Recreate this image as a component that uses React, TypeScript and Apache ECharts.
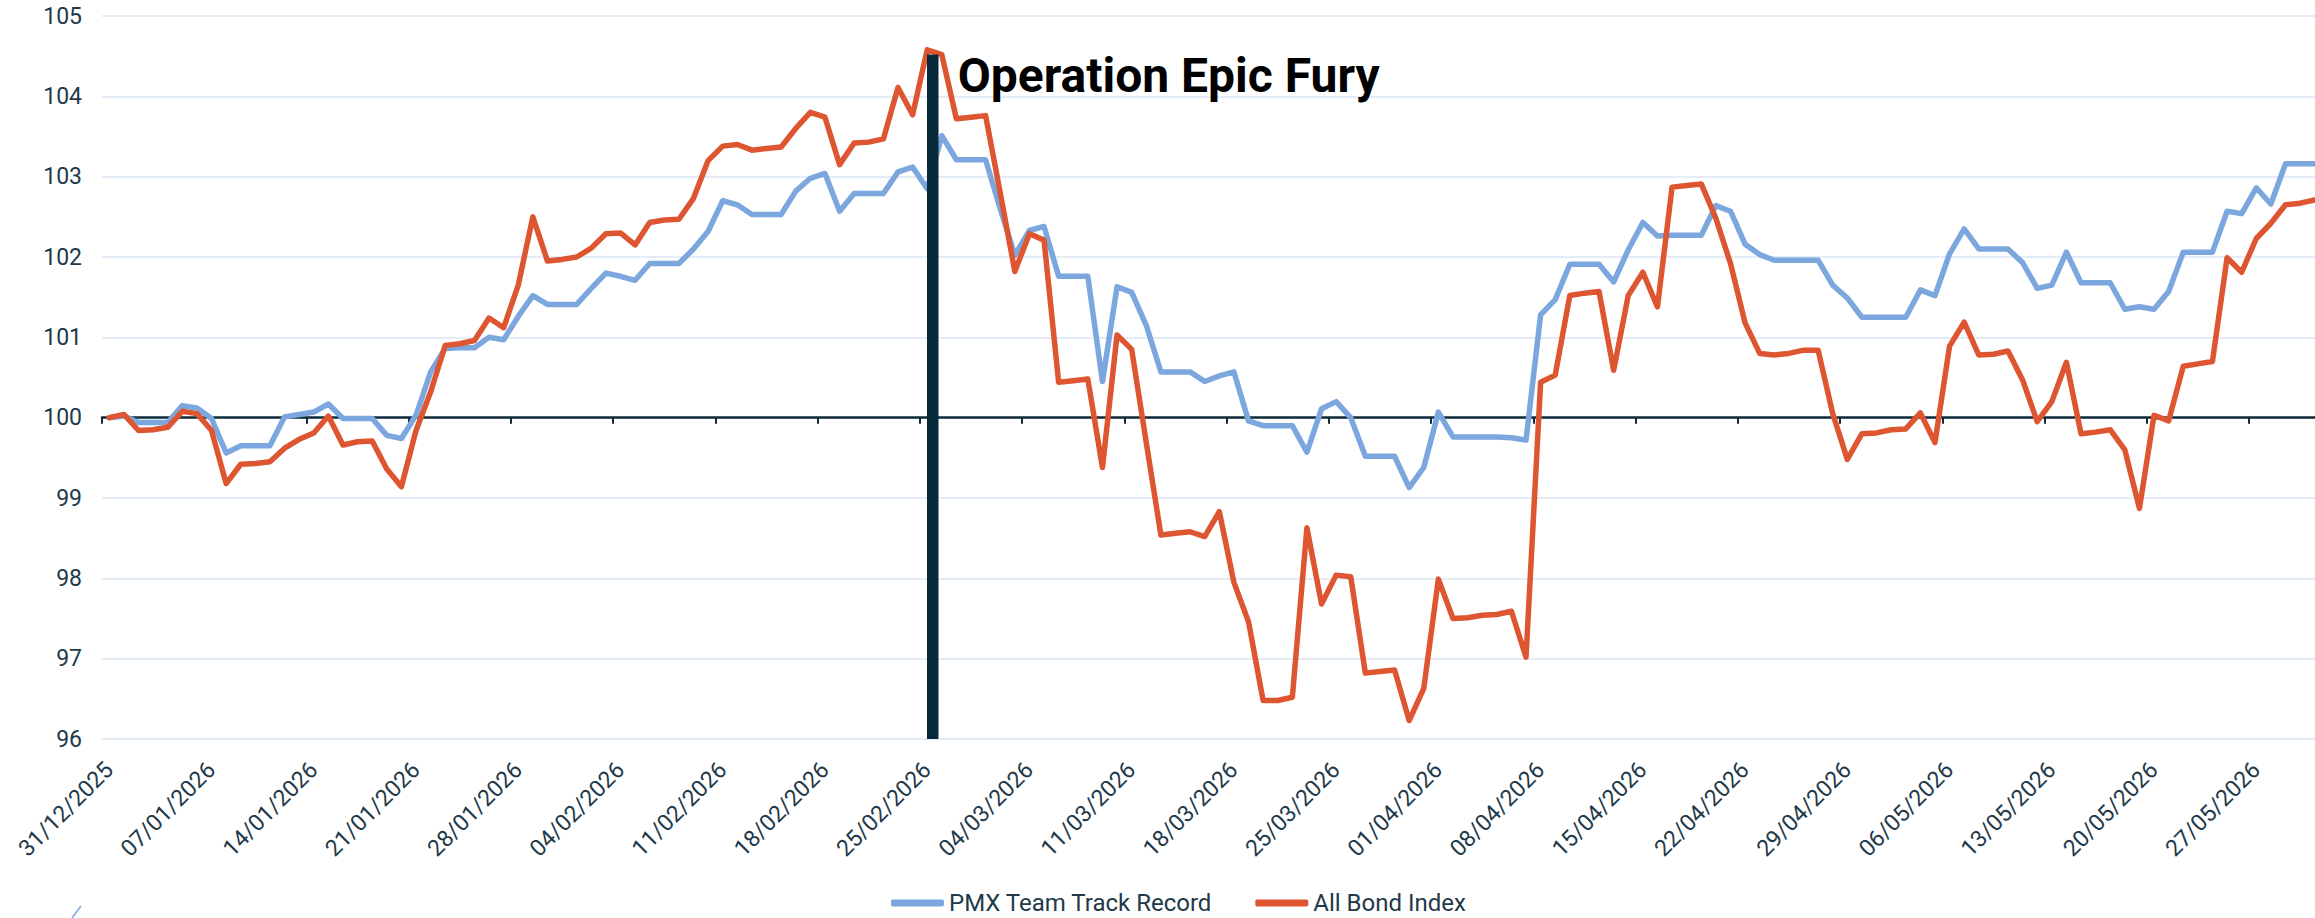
import React, { useEffect, useRef } from 'react';
import * as echarts from 'echarts';

// ---------- data ----------
const START_DATE = '2025-12-31';
const SERIES_NAMES = ['PMX Team Track Record', 'All Bond Index'];

const PMX_TEAM = [
  100.00, 100.02, 99.94, 99.94, 99.94, 100.15, 100.12,
  99.99, 99.56, 99.65, 99.65, 99.65, 100.01, 100.04,
  100.07, 100.17, 99.99, 99.99, 99.99, 99.78, 99.74,
  100.03, 100.57, 100.86, 100.87, 100.87, 101.00, 100.97,
  101.26, 101.52, 101.41, 101.41, 101.41, 101.61, 101.80,
  101.76, 101.71, 101.92, 101.92, 101.92, 102.10, 102.32,
  102.70, 102.65, 102.53, 102.53, 102.53, 102.82, 102.98,
  103.04, 102.57, 102.79, 102.79, 102.79, 103.06, 103.12,
  102.85, 103.51, 103.21, 103.21, 103.21, 102.60, 102.02,
  102.33, 102.38, 101.76, 101.76, 101.76, 100.45, 101.63,
  101.56, 101.15, 100.57, 100.57, 100.57, 100.45, 100.52,
  100.57, 99.96, 99.90, 99.90, 99.90, 99.57, 100.11,
  100.20, 100.00, 99.52, 99.52, 99.52, 99.13, 99.38,
  100.07, 99.76, 99.76, 99.76, 99.76, 99.75, 99.72,
  101.28, 101.47, 101.91, 101.91, 101.91, 101.69, 102.09,
  102.43, 102.26, 102.27, 102.27, 102.27, 102.64, 102.57,
  102.16, 102.03, 101.96, 101.96, 101.96, 101.96, 101.65,
  101.49, 101.25, 101.25, 101.25, 101.25, 101.59, 101.52,
  102.04, 102.35, 102.10, 102.10, 102.10, 101.93, 101.61,
  101.65, 102.06, 101.68, 101.68, 101.68, 101.35, 101.38,
  101.35, 101.57, 102.06, 102.06, 102.06, 102.57, 102.54,
  102.86, 102.66, 103.16, 103.16, 103.16,
];

const ALL_BOND = [
  100.00, 100.04, 99.84, 99.85, 99.88, 100.08, 100.05,
  99.84, 99.18, 99.42, 99.43, 99.45, 99.62, 99.73,
  99.81, 100.02, 99.66, 99.70, 99.71, 99.36, 99.14,
  99.84, 100.32, 100.90, 100.92, 100.96, 101.24, 101.12,
  101.65, 102.50, 101.95, 101.97, 102.00, 102.11, 102.29,
  102.30, 102.15, 102.43, 102.46, 102.47, 102.73, 103.20,
  103.38, 103.40, 103.33, 103.35, 103.37, 103.60, 103.80,
  103.74, 103.15, 103.42, 103.43, 103.47, 104.11, 103.77,
  104.58, 104.52, 103.72, 103.74, 103.76, 102.80, 101.82,
  102.29, 102.21, 100.44, 100.46, 100.48, 99.38, 101.03,
  100.85, 99.69, 98.54, 98.56, 98.58, 98.52, 98.83,
  97.95, 97.46, 96.48, 96.48, 96.52, 98.63, 97.68,
  98.04, 98.02, 96.82, 96.84, 96.86, 96.23, 96.63,
  97.99, 97.50, 97.51, 97.54, 97.55, 97.59, 97.02,
  100.44, 100.53, 101.52, 101.55, 101.57, 100.59, 101.52,
  101.81, 101.38, 102.87, 102.89, 102.91, 102.48, 101.92,
  101.18, 100.80, 100.78, 100.80, 100.84, 100.84, 100.05,
  99.48, 99.80, 99.81, 99.85, 99.86, 100.06, 99.69,
  100.89, 101.19, 100.78, 100.79, 100.83, 100.47, 99.95,
  100.20, 100.69, 99.80, 99.82, 99.85, 99.60, 98.87,
  100.03, 99.96, 100.64, 100.67, 100.70, 101.99, 101.81,
  102.23, 102.42, 102.65, 102.67, 102.71,
];

const Y_MIN = 96;
const Y_MAX = 105;
const Y_STEP = 1;
const BASELINE = 100;
const LABEL_EVERY = 7; // one tick label per week

const EVENT_LABEL = 'Operation Epic Fury';
const EVENT_POS = 56.88; // position along the day axis (in days from the start edge)
const EVENT_TOP = 104.52;
const EVENT_LABEL_Y = 104.26;

// ---------- style ----------
const W = 2315;
const H = 918;
const GRID = { left: 102, right: -7, top: 16, bottom: 179 };
const FONT = 'Roboto, "Noto Sans", sans-serif';
const TEXT = '#22394a';
const AXIS = '#0f2b3a';
const NAVY = '#062a3a';
const GRID_COLOR = '#e4ecf7';
const BLUE = '#7ba7de';
const RED = '#de5631';
const LINE_W = 5.5;

function buildDates(start: string, count: number): string[] {
  const [y, m, d] = start.split('-').map(Number);
  const base = Date.UTC(y, m - 1, d);
  const out: string[] = [];
  for (let i = 0; i < count; i++) {
    const dt = new Date(base + i * 86400000);
    const dd = String(dt.getUTCDate()).padStart(2, '0');
    const mm = String(dt.getUTCMonth() + 1).padStart(2, '0');
    out.push(`${dd}/${mm}/${dt.getUTCFullYear()}`);
  }
  return out;
}

const DATES = buildDates(START_DATE, PMX_TEAM.length);

export default function App() {
  const ref = useRef<HTMLDivElement>(null);

  useEffect(() => {
    if (!ref.current) return;
    const chart = echarts.init(ref.current, null, { renderer: 'svg' });
    const plotH = H - GRID.top - GRID.bottom;
    const baselineOffset = -(plotH * (BASELINE - Y_MIN)) / (Y_MAX - Y_MIN);

    const option: any = {
      animation: false,
      backgroundColor: '#ffffff',
      grid: { ...GRID, containLabel: false, outerBoundsMode: 'none' },
      legend: {
        data: SERIES_NAMES,
        left: 886,
        top: 886,
        padding: 5,
        itemWidth: 53,
        itemHeight: 7,
        itemGap: 43,
        icon: 'roundRect',
        textStyle: { fontSize: 24, color: TEXT, fontFamily: FONT },
      },
      xAxis: [
        {
          type: 'category',
          data: DATES,
          boundaryGap: true,
          axisLine: { show: false },
          axisTick: { show: false },
          splitLine: { show: false },
          axisLabel: {
            interval: LABEL_EVERY - 1,
            rotate: 45,
            margin: 27,
            fontSize: 23,
            color: TEXT,
            fontFamily: FONT,
          },
        },
        {
          type: 'category',
          data: DATES,
          boundaryGap: true,
          position: 'bottom',
          offset: baselineOffset,
          axisLine: { show: true, onZero: false, lineStyle: { color: AXIS, width: 2.5 } },
          axisTick: { show: true, interval: LABEL_EVERY - 1, length: 6, lineStyle: { color: AXIS, width: 2 } },
          axisLabel: { show: false },
          splitLine: { show: false },
        },
        {
          type: 'value',
          min: 0,
          max: DATES.length,
          show: false,
          splitLine: { show: false },
        },
      ],
      yAxis: {
        type: 'value',
        min: Y_MIN,
        max: Y_MAX,
        interval: Y_STEP,
        axisLine: { show: false },
        axisTick: { show: false },
        axisLabel: { fontSize: 23, color: TEXT, fontFamily: FONT, margin: 20 },
        splitLine: { show: true, lineStyle: { color: GRID_COLOR, width: 2 } },
      },
      series: [
        {
          name: SERIES_NAMES[0],
          type: 'line',
          xAxisIndex: 0,
          yAxisIndex: 0,
          data: PMX_TEAM,
          symbol: 'none',
          showSymbol: false,
          lineStyle: { color: BLUE, width: LINE_W, cap: 'round', join: 'round' },
          itemStyle: { color: BLUE },
          z: 2,
        },
        {
          name: SERIES_NAMES[1],
          type: 'line',
          xAxisIndex: 0,
          yAxisIndex: 0,
          data: ALL_BOND,
          symbol: 'none',
          showSymbol: false,
          lineStyle: { color: RED, width: LINE_W, cap: 'round', join: 'round' },
          itemStyle: { color: RED },
          z: 2,
        },
        {
          name: 'event',
          type: 'line',
          xAxisIndex: 2,
          yAxisIndex: 0,
          data: [
            [EVENT_POS, Y_MIN],
            [EVENT_POS, EVENT_TOP],
          ],
          symbol: 'none',
          showSymbol: false,
          silent: true,
          lineStyle: { color: NAVY, width: 11.5, cap: 'butt' },
          itemStyle: { color: NAVY },
          z: 3,
          markPoint: {
            symbol: 'circle',
            symbolSize: 0,
            silent: true,
            itemStyle: { color: 'rgba(0,0,0,0)' },
            label: {
              show: true,
              position: 'right',
              distance: 25,
              formatter: EVENT_LABEL,
              fontFamily: FONT,
              fontWeight: 'bold',
              fontSize: 48,
              color: '#000000',
            },
            data: [{ coord: [EVENT_POS, EVENT_LABEL_Y] }],
          },
        },
      ],
      graphic: [
        {
          type: 'line',
          silent: true,
          shape: { x1: 72, y1: 918, x2: 81, y2: 906 },
          style: { stroke: BLUE, lineWidth: 1.5 },
        },
      ],
    };

    chart.setOption(option);
    return () => chart.dispose();
  }, []);

  return (
    <div
      ref={ref}
      style={{ position: 'fixed', left: 0, top: 0, width: W, height: H, background: '#ffffff' }}
    />
  );
}
